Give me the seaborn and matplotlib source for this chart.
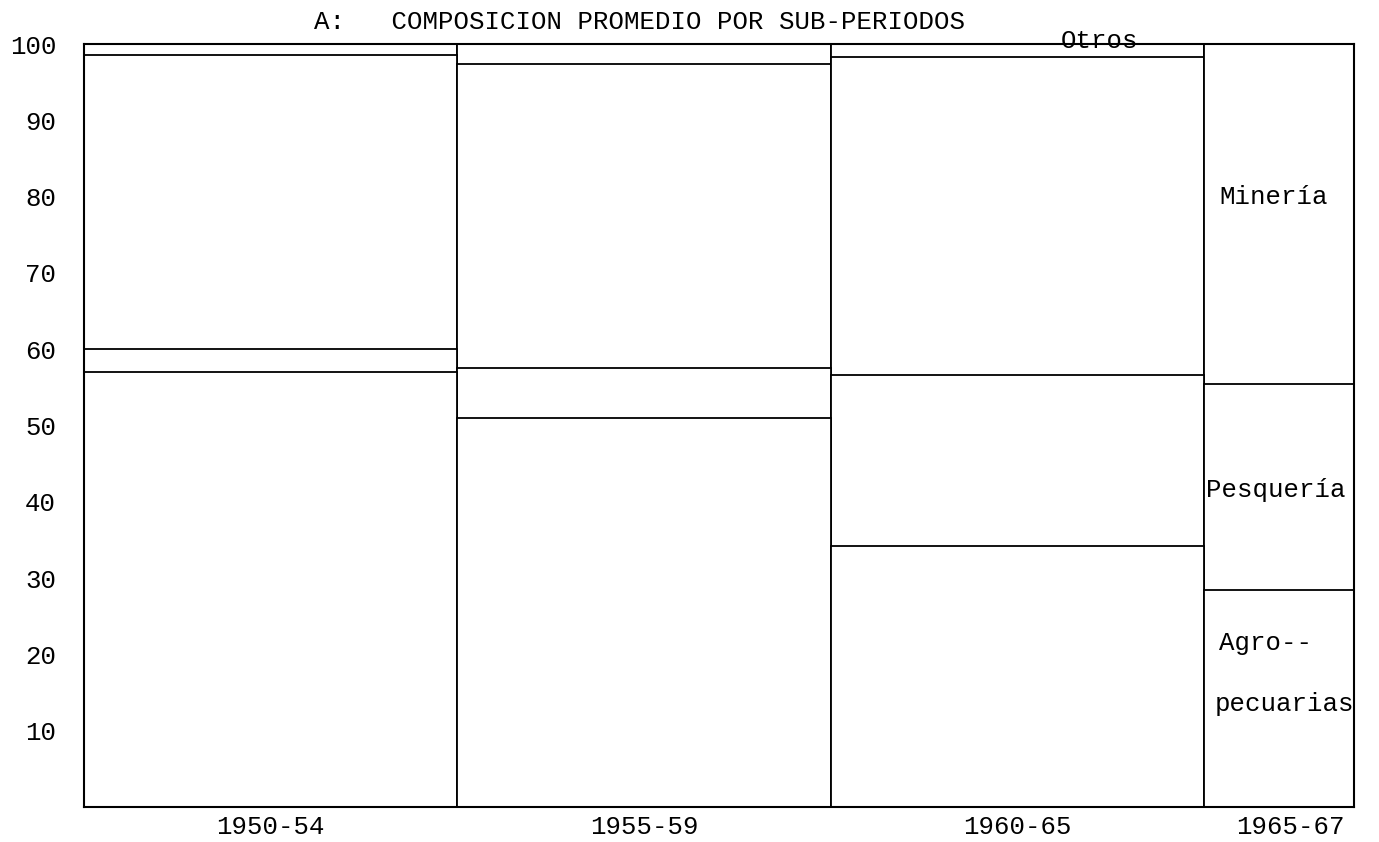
import matplotlib
matplotlib.use("Agg")
import matplotlib.pyplot as plt
import seaborn as sns
import pandas as pd

# ---- data (percent of total exports, average per sub-period) ----
periods = ["1950-54", "1955-59", "1960-65", "1965-67"]
agropecuarias = [57.0, 51.0, 34.2, 28.4]
pesqueria = [3.0, 6.5, 22.4, 27.0]
mineria = [38.6, 39.9, 41.7, 44.6]
otros = [1.4, 2.6, 1.7, 0.0]
y_ticks = [10, 20, 30, 40, 50, 60, 70, 80, 90, 100]
title_text = "A:   COMPOSICION PROMEDIO POR SUB-PERIODOS"

df = pd.DataFrame({
    "period": periods,
    "Agropecuarias": agropecuarias,
    "Pesqueria": pesqueria,
    "Mineria": mineria,
    "Otros": otros,
})
df["lvl1"] = df["Agropecuarias"]
df["lvl2"] = df["lvl1"] + df["Pesqueria"]
df["lvl3"] = df["lvl2"] + df["Mineria"]
df["lvl4"] = df["lvl3"] + df["Otros"]

sns.set_style("white")
plt.rcParams["font.family"] = ["Liberation Mono", "DejaVu Sans Mono"]
plt.rcParams["text.color"] = "black"
plt.rcParams["xtick.color"] = "black"
plt.rcParams["ytick.color"] = "black"

FS = 18.5

fig = plt.figure(figsize=(13.79, 8.42), dpi=100)
ax = fig.add_axes([0.0609, 0.0416, 0.9209, 0.9061])

for lvl in ["lvl4", "lvl3", "lvl2", "lvl1"]:
    sns.barplot(data=df, x="period", y=lvl, order=periods, color="white",
                edgecolor="black", linewidth=1.3, width=1.0, saturation=1,
                ax=ax, errorbar=None)

# last sub-period drawn narrower (cut at the right edge of the sheet)
last_w = 0.4
for p in ax.patches:
    if abs(p.get_x() + p.get_width() / 2 - 3) < 0.01:
        p.set_width(last_w)

ax.set_xlim(-0.5, 2.5 + last_w)
ax.set_ylim(0, 100)
ax.set_xticks([0, 1, 2, 2.5 + last_w / 2 + 0.03])
ax.set_xticklabels(periods, fontsize=FS)
ax.set_yticks(y_ticks)
ax.set_yticklabels([str(v) for v in y_ticks], fontsize=FS)
ax.tick_params(axis="y", length=0, pad=20)
ax.tick_params(axis="x", length=0, pad=6)
ax.set_xlabel("")
ax.set_ylabel("")
for s in ax.spines.values():
    s.set_visible(True)
    s.set_color("black")
    s.set_linewidth(1.5)

# category labels inside the last bar
lx = 2.54
ax.text(lx, 80, "Minería", fontsize=FS, va="center", ha="left")
ax.text(2.505, 41.5, "Pesquería", fontsize=FS, va="center", ha="left")
ax.text(lx, 21.5, "Agro--", fontsize=FS, va="center", ha="left")
ax.text(2.527, 13.5, "pecuarias", fontsize=FS, va="center", ha="left")
ax.text(2.22, 99.5, "Otros", fontsize=FS, va="baseline", ha="center")

fig.text(0.464, 0.974, title_text, fontsize=FS, ha="center", va="center")

fig.savefig("out.png", dpi=100, facecolor="white")
